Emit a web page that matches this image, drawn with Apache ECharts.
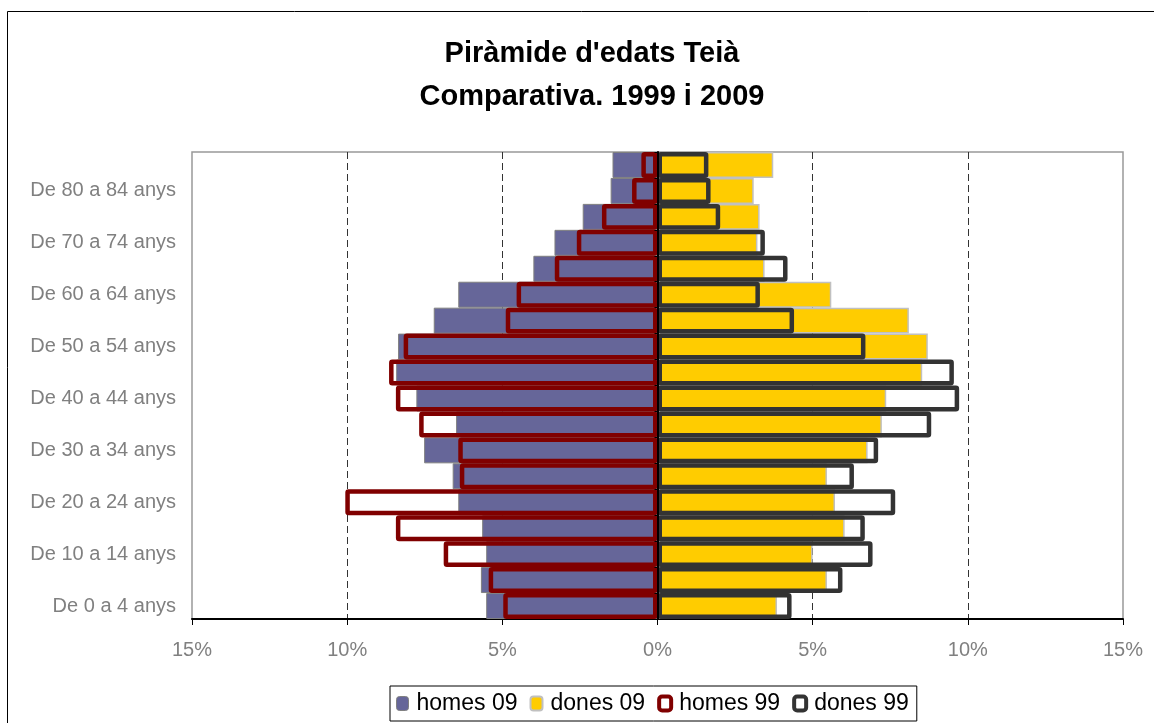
<!DOCTYPE html>
<html>
<head>
<meta charset="utf-8">
<title>Piràmide d'edats Teià</title>
<script src="https://cdn.jsdelivr.net/npm/echarts@6/dist/echarts.min.js"></script>
<style>
  html, body { margin: 0; padding: 0; background: #fff; }
  #piramide { width: 1154px; height: 723px; }
</style>
</head>
<body>
<div id="piramide"></div>
<script>
// grups d'edat, de baix a dalt
var edats = ['De 0 a 4 anys', 'De 5 a 9 anys', 'De 10 a 14 anys', 'De 15 a 19 anys',
  'De 20 a 24 anys', 'De 25 a 29 anys', 'De 30 a 34 anys', 'De 35 a 39 anys',
  'De 40 a 44 anys', 'De 45 a 49 anys', 'De 50 a 54 anys', 'De 55 a 59 anys',
  'De 60 a 64 anys', 'De 65 a 69 anys', 'De 70 a 74 anys', 'De 75 a 79 anys',
  'De 80 a 84 anys', 'De 85 anys i més'];

// percentatges (%)
var homes09 = [5.52, 5.69, 5.52, 5.65, 6.42, 6.6, 7.52, 6.49, 7.77, 8.42, 8.36, 7.21, 6.42, 4.0, 3.32, 2.41, 1.51, 1.45];
var dones09 = [3.85, 5.46, 5.0, 6.03, 5.72, 5.46, 6.77, 7.23, 7.37, 8.53, 8.71, 8.1, 5.6, 3.45, 3.22, 3.29, 3.1, 3.73];
var homes99 = [4.97, 5.44, 6.89, 8.43, 10.06, 6.37, 6.42, 7.68, 8.43, 8.65, 8.18, 4.89, 4.54, 3.31, 2.6, 1.79, 0.82, 0.52];
var dones99 = [4.32, 5.96, 6.93, 6.68, 7.66, 6.33, 7.11, 8.82, 9.72, 9.55, 6.7, 4.4, 3.3, 4.19, 3.46, 2.02, 1.71, 1.64];

var font = 'Liberation Sans, Arial, sans-serif';
var gris = '#808080';

var chart = echarts.init(document.getElementById('piramide'));

function negatiu(arr) {
  return arr.map(function (v) { return -v; });
}

chart.setOption({
  animation: false,
  title: {
    text: "Piràmide d'edats Teià\nComparativa. 1999 i 2009",
    left: 587,
    top: 27,
    textAlign: 'center',
    textStyle: { fontFamily: font, fontSize: 29, fontWeight: 'bold', color: '#000', lineHeight: 43 }
  },
  graphic: [{
    // marc exterior del gràfic
    type: 'rect',
    shape: { x: 7.5, y: 11.5, width: 1300, height: 900 },
    style: { fill: 'none', stroke: '#000', lineWidth: 1 },
    silent: true
  }],
  legend: {
    left: 390,
    top: 686,
    padding: [6, 8, 6, 6],
    itemGap: 12,
    itemWidth: 12,
    itemHeight: 14,
    borderColor: '#000',
    borderWidth: 1,
    textStyle: { fontFamily: font, fontSize: 23, color: '#000', padding: [0, 0, 0, 3] },
    data: [
      { name: 'homes 09', itemStyle: { color: '#666699', borderColor: '#808080', borderWidth: 1 } },
      { name: 'dones 09', itemStyle: { color: '#FFCC00', borderColor: '#c0c0c0', borderWidth: 2 } },
      { name: 'homes 99', icon: 'roundRect', itemStyle: { color: '#fff', borderColor: '#800000', borderWidth: 4 } },
      { name: 'dones 99', icon: 'roundRect', itemStyle: { color: '#fff', borderColor: '#333333', borderWidth: 4 } }
    ]
  },
  grid: {
    left: 192,
    right: 31,
    top: 152,
    bottom: 104,
    show: true,
    borderColor: '#999',
    borderWidth: 1.5,
    containLabel: false
  },
  xAxis: {
    type: 'value',
    min: -15,
    max: 15,
    interval: 5,
    axisLine: { show: true, onZero: false, lineStyle: { color: '#000', width: 2 } },
    axisTick: { show: true, length: 6, lineStyle: { color: '#000', width: 1 } },
    axisLabel: {
      margin: 21,
      fontFamily: font,
      fontSize: 20,
      color: gris,
      formatter: function (v) { return Math.abs(v) + '%'; }
    },
    splitLine: {
      show: true,
      lineStyle: {
        // sense línia als extrems ni al zero
        color: ['rgba(0,0,0,0)', '#333', '#333', 'rgba(0,0,0,0)', '#333', '#333', 'rgba(0,0,0,0)'],
        type: [7, 4],
        width: 1
      }
    }
  },
  yAxis: [{
    // etiquetes a l'esquerra
    type: 'category',
    data: edats,
    position: 'left',
    axisLine: { show: false, onZero: false },
    axisTick: { show: false },
    axisLabel: { interval: 1, margin: 16, fontFamily: font, fontSize: 20, color: gris }
  }, {
    // eix vertical al 0%
    type: 'category',
    data: edats,
    position: 'left',
    z: 10,
    axisLine: { show: true, onZero: true, lineStyle: { color: '#000', width: 2 } },
    axisTick: { show: true, length: 3, lineStyle: { color: '#000' } },
    axisLabel: { show: false }
  }],
  series: [{
    name: 'homes 09',
    type: 'bar',
    data: negatiu(homes09),
    barGap: '-100%',
    barCategoryGap: 0,
    itemStyle: { color: '#666699', borderColor: '#808080', borderWidth: 1 }
  }, {
    name: 'dones 09',
    type: 'bar',
    data: dones09,
    barGap: '-100%',
    barCategoryGap: 0,
    itemStyle: { color: '#FFCC00', borderColor: '#c0c0c0', borderWidth: 1.5 }
  }, {
    name: 'homes 99',
    type: 'bar',
    data: negatiu(homes99),
    barGap: '-100%',
    barCategoryGap: 0,
    itemStyle: { color: 'rgba(0,0,0,0)', borderColor: '#800000', borderWidth: 4.5, borderRadius: 1 }
  }, {
    name: 'dones 99',
    type: 'bar',
    data: dones99,
    barGap: '-100%',
    barCategoryGap: 0,
    itemStyle: { color: 'rgba(0,0,0,0)', borderColor: '#333333', borderWidth: 4.5, borderRadius: 1 }
  }]
});
</script>
</body>
</html>
